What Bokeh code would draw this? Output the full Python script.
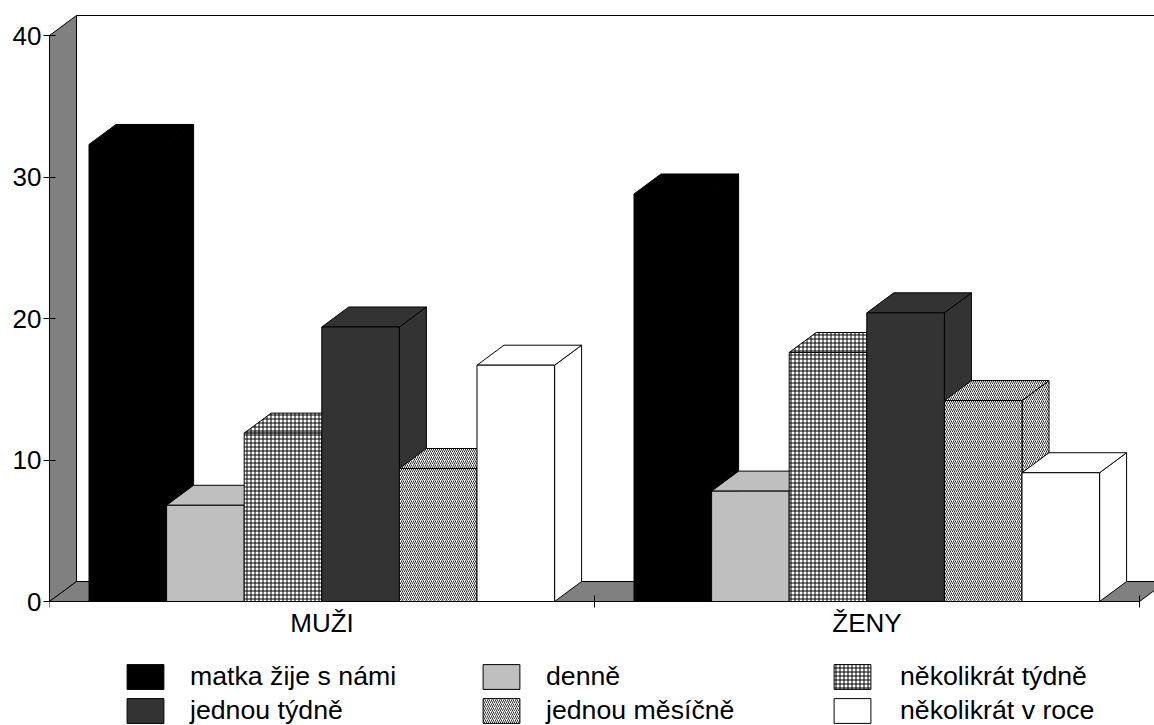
from bokeh.plotting import figure
from bokeh.models import Range1d, LinearAxis, FixedTicker, Legend, LegendItem
from bokeh.embed import file_html
from bokeh.resources import INLINE

categories = ["MUŽI", "ŽENY"]
series_names = ["matka žije s námi", "denně", "několikrát týdně",
                "jednou týdně", "jednou měsíčně", "několikrát v roce"]
matka = [32.3, 28.8]
denne = [6.8, 7.8]
nekolikrat_tydne = [11.9, 17.6]
jednou_tydne = [19.4, 20.4]
jednou_mesicne = [9.4, 14.2]
nekolikrat_v_roce = [16.7, 9.1]
series_values = [matka, denne, nekolikrat_tydne, jednou_tydne, jednou_mesicne, nekolikrat_v_roce]
y_ticks = [0, 10, 20, 30, 40]

fills = ["#000000", "#bfbfbf", "#ffffff", "#333333", "#ffffff", "#ffffff"]
hatches = [None, None, "cross", None, "right_diagonal_line", None]
hatch_scales = [0, 0, 4, 0, 4, 0]
hatch_weights = [0, 0, 1, 0, 0.8, 0]

FONT = "Liberation Sans"
FS_AXIS = "26px"
FS_LEGEND = "26.7px"
W, H = 1154, 725
PX_X = 545.0      # pixels per category
PX_Y = 14.15      # pixels per value unit
dx = 27 / PX_X
dy = 20 / PX_Y
inset = 39.5 / PX_X
bw = 77.6 / PX_X

left_b, top_b = 49, 14
zero_px = 601
frame_w = W - left_b
p = figure(width=W, height=H, output_backend="svg", toolbar_location=None,
           x_range=Range1d(0, frame_w / PX_X),
           y_range=Range1d(-(H - zero_px) / PX_Y, (zero_px - top_b) / PX_Y),
           x_axis_type=None, y_axis_type=None,
           min_border_left=left_b, min_border_right=0, min_border_top=top_b,
           min_border_bottom=0, outline_line_color=None,
           background_fill_color="white", border_fill_color="white")
p.grid.visible = False

y_end = y_ticks[-1]
n = len(categories)
x_end = frame_w / PX_X
# walls and floor
p.patch([0, dx, dx, 0], [0, dy, y_end + dy, y_end], fill_color="#808080", line_color="black", line_width=1)
p.patch([0, dx, n + dx, n], [0, dy, dy, 0], fill_color="#808080", line_color="black", line_width=1)
p.line([dx, dx, x_end], [dy, y_end + dy, y_end + dy], line_color="black", line_width=1)

fronts = []
for i, vals in enumerate(series_values):
    lefts = [g + inset + i * bw for g in range(n)]
    rights = [l + bw for l in lefts]
    kw = dict(fill_color=fills[i], line_color="black", line_width=1)
    if hatches[i]:
        kw.update(hatch_pattern=hatches[i], hatch_color="black",
                  hatch_scale=hatch_scales[i], hatch_weight=hatch_weights[i])
    p.patches([[r, r + dx, r + dx, r] for r in rights],
              [[0, dy, v + dy, v] for v in vals], **kw)
    p.patches([[l, l + dx, r + dx, r] for l, r in zip(lefts, rights)],
              [[v, v + dy, v + dy, v] for v in vals], **kw)
    fronts.append(p.quad(left=lefts, right=rights, bottom=0, top=vals, **kw))

yax = LinearAxis(ticker=FixedTicker(ticks=y_ticks), bounds=(0, y_end),
                 major_tick_in=6, major_tick_out=6, minor_tick_line_color=None,
                 major_label_standoff=2, major_label_text_font=FONT,
                 major_label_text_font_size=FS_AXIS, major_label_text_color="black",
                 axis_line_color="black", major_tick_line_color="black")
p.add_layout(yax, "left")

centers = [g + 0.5 for g in range(n)]
xax = LinearAxis(ticker=FixedTicker(ticks=centers, minor_ticks=list(range(n + 1))),
                 bounds=(0, n), major_tick_in=0, major_tick_out=0, fixed_location=0,
                 minor_tick_in=6, minor_tick_out=6, minor_tick_line_color="black",
                 major_label_overrides={c: t for c, t in zip(centers, categories)},
                 major_label_standoff=0, major_label_text_font=FONT,
                 major_label_text_font_size=FS_AXIS, major_label_text_color="black",
                 axis_line_color="black")
p.add_layout(xax, "below")

legend_x = [73, 429, 780]
standoffs = [22, 22, 25]
for col, x0 in enumerate(legend_x):
    items = [LegendItem(label=series_names[col], renderers=[fronts[col]]),
             LegendItem(label=series_names[col + 3], renderers=[fronts[col + 3]])]
    lg = Legend(items=items, location=(x0, -1), orientation="vertical",
                glyph_width=46, glyph_height=31, label_standoff=standoffs[col], spacing=3,
                padding=0, margin=0, border_line_color=None, background_fill_alpha=0,
                label_text_font=FONT, label_text_font_size=FS_LEGEND, label_text_color="black")
    p.add_layout(lg)

open("out.html", "w").write(file_html(p, INLINE))
